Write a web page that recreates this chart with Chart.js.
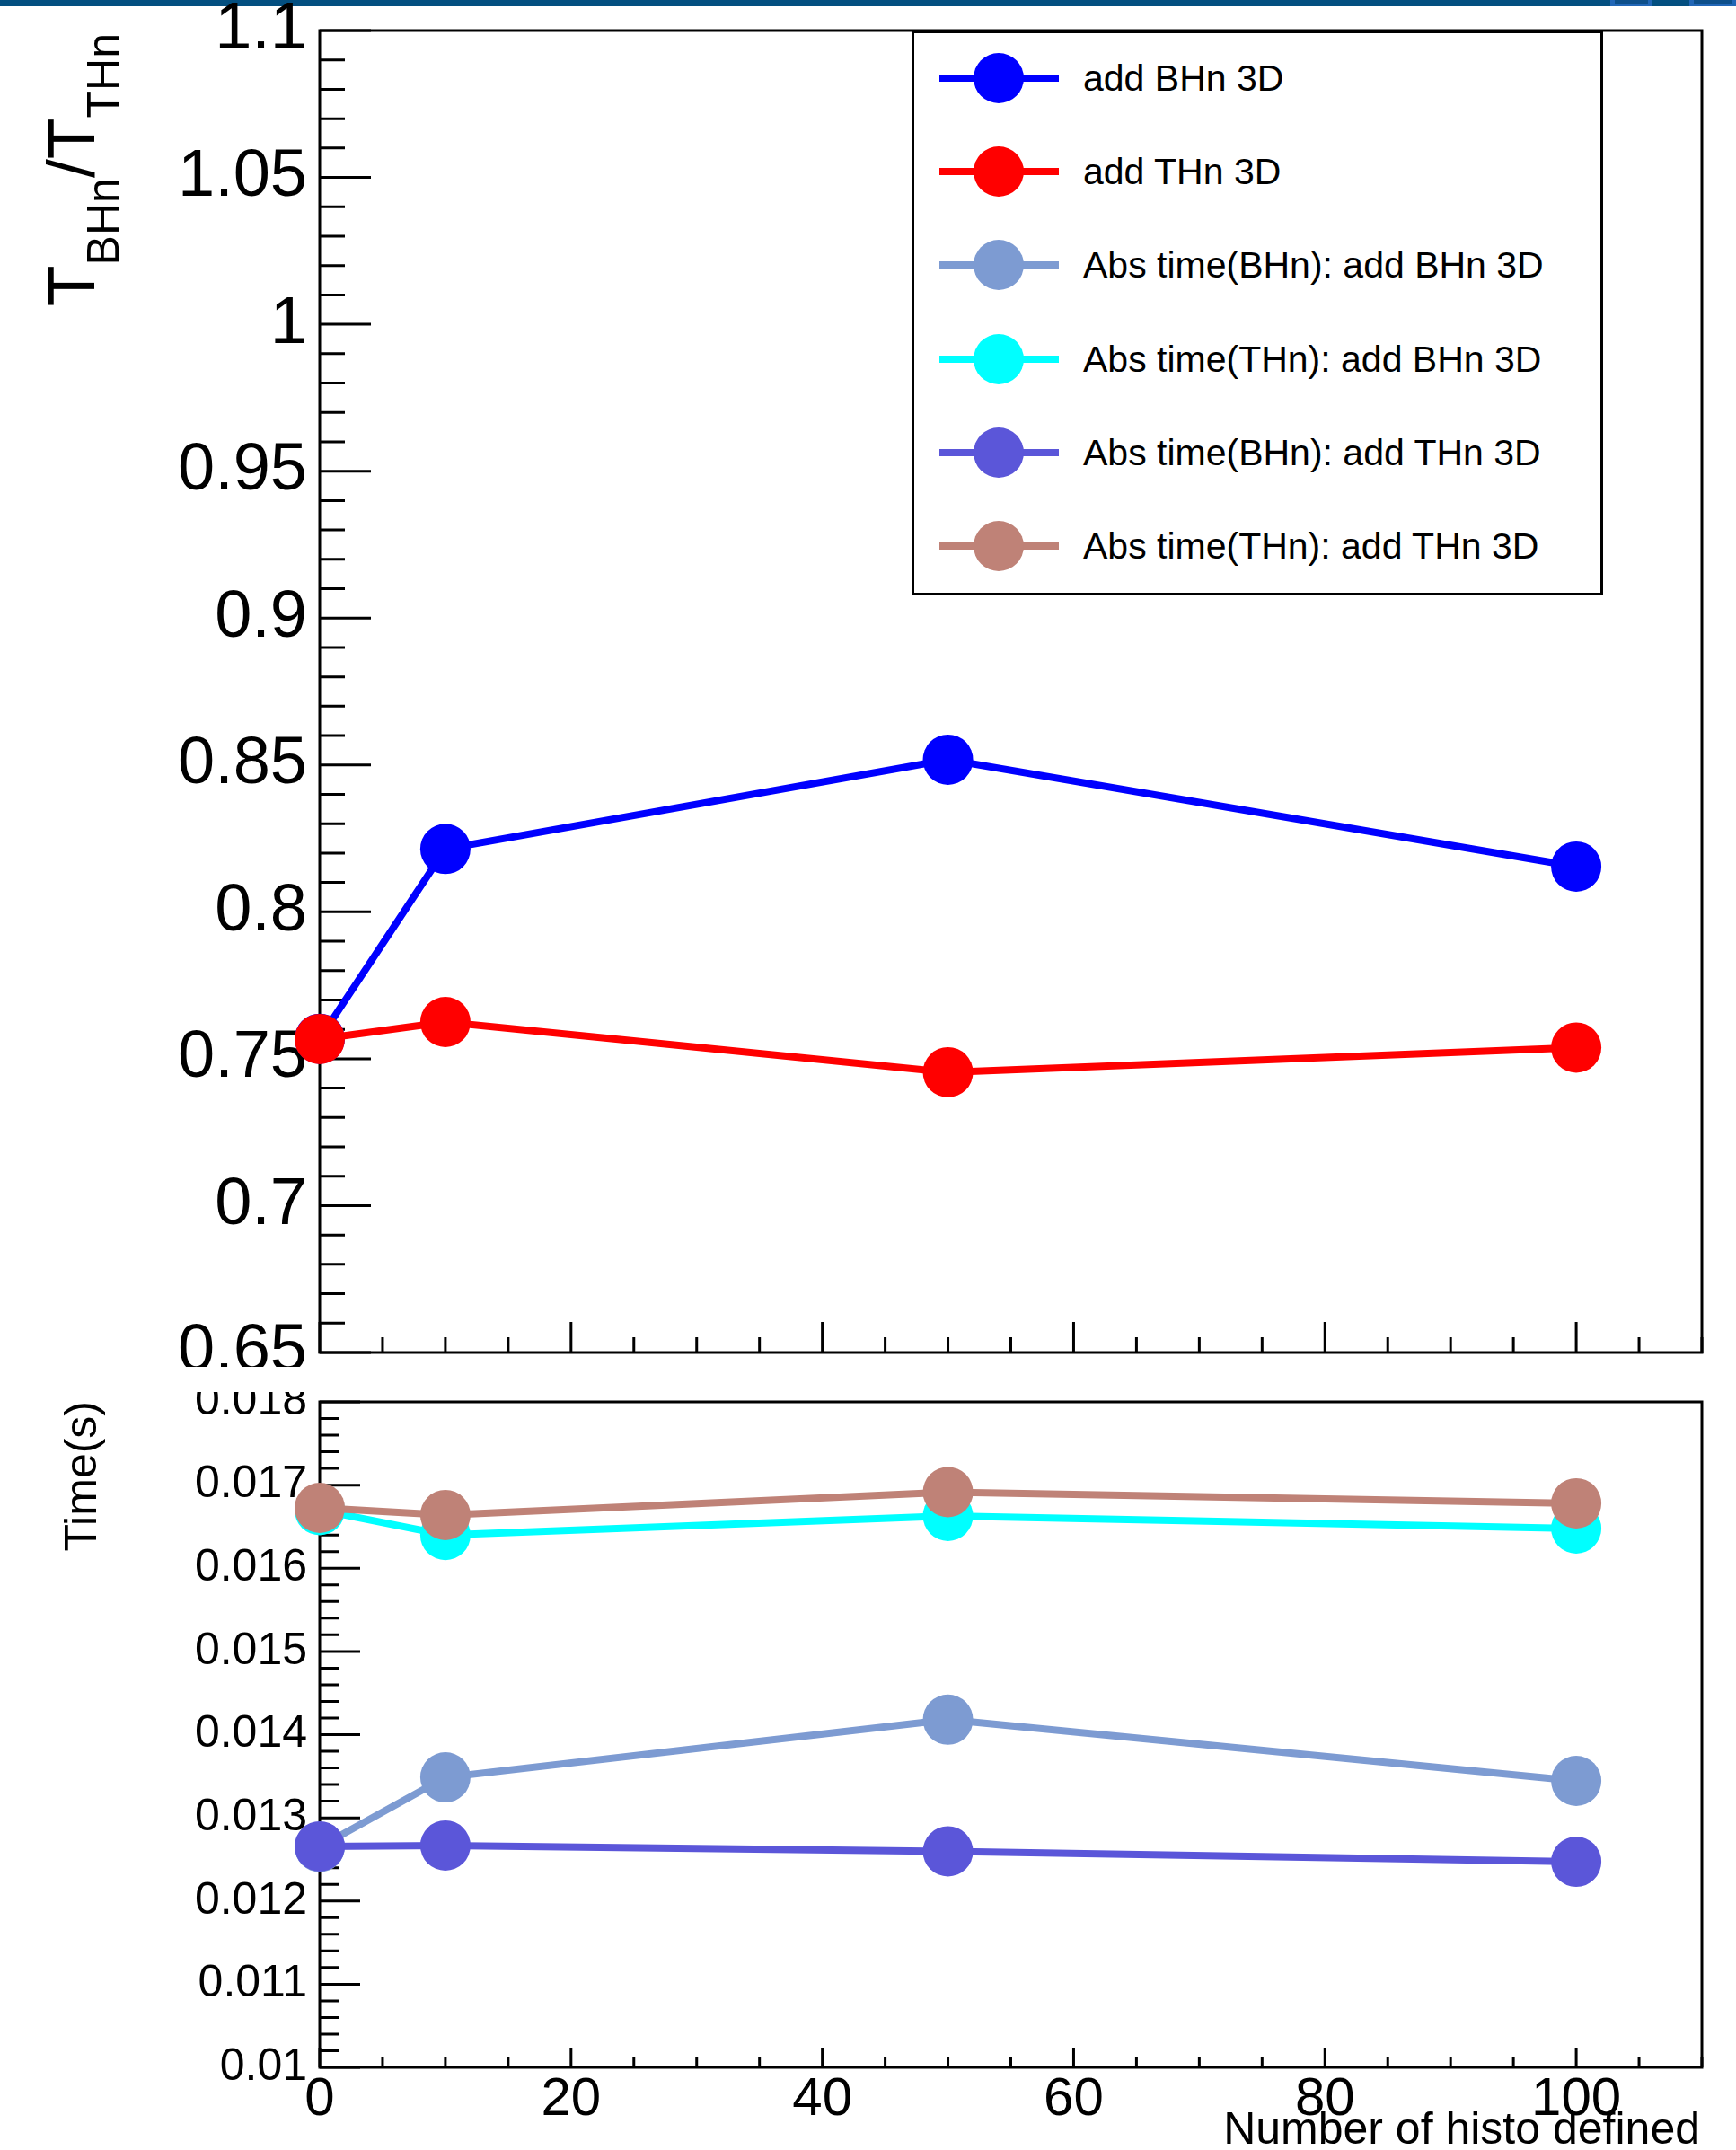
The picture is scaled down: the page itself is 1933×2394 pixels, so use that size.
<!DOCTYPE html>
<html lang="en">
<head>
<meta charset="UTF-8">
<title>BHn / THn timing</title>
<script src="https://cdn.jsdelivr.net/npm/chart.js"></script>
<style>
    html, body { margin: 0; padding: 0; background: #fff; }
    body {
        width: 1933px; height: 2394px; position: relative; overflow: hidden;
        font-family: 'Liberation Sans', Arial, Helvetica, sans-serif; color: #000;
    }
    .topbar { position: absolute; left: 0; top: 0; width: 1933px; height: 7px; background: #034f80; }
    .winbtn { position: absolute; top: 0; height: 7px; background: #2166b6; }
    .winbtn span { position: absolute; left: 5px; right: 5px; top: 0; height: 5px; background: #0d4f8a; }
    .pad { position: absolute; left: 0; width: 1933px; }
    #topPad { top: 0; height: 1522px; }
    #botPad { top: 1550px; height: 844px; }
    .vtitle {
        position: absolute; transform-origin: 0 0; transform: rotate(-90deg);
        white-space: nowrap; text-align: right; line-height: 1;
    }
    .vtitle .sub { font-size: 50px; position: relative; top: 27px; }
    #xTitle { position: absolute; right: 40px; top: 2345px; font-size: 50px; line-height: 1; white-space: nowrap; }
    #legendBox {
        position: absolute; left: 1015px; top: 34px; width: 770px; height: 629px;
        box-sizing: border-box; border: 3px solid #000; background: #fff;
    }
    .lg-line { position: absolute; height: 8px; }
    .lg-dot { position: absolute; width: 56px; height: 56px; border-radius: 50%; }
    .lg-text { position: absolute; font-size: 41px; line-height: 1; white-space: nowrap; }
</style>
</head>
<body>
    <div class="topbar"></div>
    <div class="winbtn" style="left:1793px;width:47px;"><span></span></div>
    <div class="winbtn" style="left:1881px;width:52px;"><span></span></div>

    <div class="pad" id="topPad"><canvas id="ratioChart"></canvas></div>
    <div class="pad" id="botPad"><canvas id="timeChart"></canvas></div>

    <div class="vtitle" style="left:42px; top:637px; width:600px; font-size:75px;">T<span class="sub">BHn</span>/T<span class="sub">THn</span></div>
    <div class="vtitle" style="left:65px; top:1960px; width:400px; font-size:50px;">Time(s)</div>
    <div id="xTitle">Number of histo defined</div>

    <div id="legendBox"></div>
    <div id="legendItems"></div>

<script>
    const FONT = "'Liberation Sans', Arial, Helvetica, sans-serif";

    // x values: number of histograms defined
    const nHisto = [0, 10, 50, 100];

    // ratio T(BHn)/T(THn)
    const ratioAddBHn = [0.7568, 0.8214, 0.8518, 0.8154];
    const ratioAddTHn = [0.7567, 0.7625, 0.7454, 0.7538];

    // absolute times (s)
    const timeBHnAddBHn = [0.01265, 0.013487, 0.01418, 0.013444];
    const timeTHnAddBHn = [0.01670, 0.01640, 0.01663, 0.016479];
    const timeBHnAddTHn = [0.012656, 0.012667, 0.012597, 0.012472];
    const timeTHnAddTHn = [0.016726, 0.01664, 0.016916, 0.016781];

    const seriesNames = [
        'add BHn 3D',
        'add THn 3D',
        'Abs time(BHn): add BHn 3D',
        'Abs time(THn): add BHn 3D',
        'Abs time(BHn): add THn 3D',
        'Abs time(THn): add THn 3D'
    ];
    const seriesColors = ['#0000ff', '#ff0000', '#7d9bd2', '#00ffff', '#5b56d9', '#bf8277'];

    // tick values and labels
    const xTicks = [0, 20, 40, 60, 80, 100];
    const xTickLabels = ['0', '20', '40', '60', '80', '100'];
    const yRatioTicks = [0.65, 0.7, 0.75, 0.8, 0.85, 0.9, 0.95, 1, 1.05, 1.1];
    const yRatioLabels = ['0.65', '0.7', '0.75', '0.8', '0.85', '0.9', '0.95', '1', '1.05', '1.1'];
    const yTimeTicks = [0.010, 0.011, 0.012, 0.013, 0.014, 0.015, 0.016, 0.017, 0.018];
    const yTimeLabels = ['0.01', '0.011', '0.012', '0.013', '0.014', '0.015', '0.016', '0.017', '0.018'];

    function toXY(values) {
        return nHisto.map((x, i) => ({ x: x, y: values[i] }));
    }

    function makeDataset(idx, values, order) {
        const c = seriesColors[idx];
        return {
            label: seriesNames[idx],
            data: toXY(values),
            borderColor: c,
            backgroundColor: c,
            borderWidth: 8,
            pointRadius: 28,
            pointHoverRadius: 28,
            pointBorderWidth: 0,
            pointBackgroundColor: c,
            pointBorderColor: c,
            tension: 0,
            clip: false,
            order: order
        };
    }

    // ROOT style frame with inner ticks, drawn under the graphs
    const rootFrame = {
        id: 'rootFrame',
        beforeDatasetsDraw(chart, args, opts) {
            const ctx = chart.ctx;
            const a = chart.chartArea;
            const xs = chart.scales.x, ys = chart.scales.y;
            ctx.save();
            ctx.strokeStyle = '#000';
            ctx.lineWidth = 3;
            ctx.strokeRect(a.left, a.top, a.right - a.left, a.bottom - a.top);

            ctx.beginPath();
            let n = Math.round((ys.max - ys.min) / opts.yStep);
            for (let i = 0; i <= n; i++) {
                const p = ys.getPixelForValue(ys.min + i * opts.yStep);
                const len = (i % opts.ySub === 0) ? opts.yMajor : opts.yMinor;
                ctx.moveTo(a.left, p);
                ctx.lineTo(a.left + len, p);
            }
            n = Math.round((xs.max - xs.min) / opts.xStep);
            for (let i = 0; i <= n; i++) {
                const p = xs.getPixelForValue(xs.min + i * opts.xStep);
                const len = (i % opts.xSub === 0) ? opts.xMajor : opts.xMinor;
                ctx.moveTo(p, a.bottom);
                ctx.lineTo(p, a.bottom - len);
            }
            ctx.stroke();
            ctx.restore();
        }
    };

    function baseOptions(padding, frameOpts) {
        return {
            responsive: true,
            maintainAspectRatio: false,
            devicePixelRatio: 1,
            animation: false,
            events: [],
            layout: { padding: padding, autoPadding: false },
            plugins: {
                legend: { display: false },
                tooltip: { enabled: false },
                rootFrame: frameOpts
            }
        };
    }

    // top pad: ratio
    const topOpts = baseOptions({ top: 34, right: 38, bottom: 16, left: 0 },
        { yStep: 0.01, ySub: 5, yMajor: 57, yMinor: 28, xStep: 5, xSub: 4, xMajor: 34, xMinor: 17 });
    topOpts.scales = {
        x: {
            type: 'linear', min: 0, max: 110,
            ticks: { display: false },
            grid: { display: false, drawTicks: false },
            border: { display: false },
            afterBuildTicks: s => { s.ticks = xTicks.map(v => ({ value: v })); },
            afterFit: s => { s.height = 0; s.paddingLeft = 0; s.paddingRight = 0; }
        },
        y: {
            type: 'linear', min: 0.65, max: 1.1,
            afterBuildTicks: s => { s.ticks = yRatioTicks.map(v => ({ value: v })); },
            ticks: {
                autoSkip: false,
                callback: (v, i) => yRatioLabels[i],
                font: { size: 74, family: FONT },
                color: '#000',
                padding: 14
            },
            grid: { display: false, drawTicks: false },
            border: { display: false },
            afterFit: s => { s.width = 356; s.paddingTop = 0; s.paddingBottom = 0; }
        }
    };

    new Chart(document.getElementById('ratioChart'), {
        type: 'line',
        data: {
            datasets: [
                makeDataset(0, ratioAddBHn, 2),
                makeDataset(1, ratioAddTHn, 1)
            ]
        },
        options: topOpts,
        plugins: [rootFrame]
    });

    // bottom pad: absolute times
    const botOpts = baseOptions({ top: 11, right: 38, bottom: 0, left: 0 },
        { yStep: 0.0002, ySub: 5, yMajor: 45, yMinor: 22, xStep: 5, xSub: 4, xMajor: 22, xMinor: 12 });
    botOpts.scales = {
        x: {
            type: 'linear', min: 0, max: 110,
            afterBuildTicks: s => { s.ticks = xTicks.map(v => ({ value: v })); },
            ticks: {
                autoSkip: false, maxRotation: 0,
                callback: (v, i) => xTickLabels[i],
                font: { size: 60, family: FONT },
                color: '#000',
                padding: 0
            },
            grid: { display: false, drawTicks: false },
            border: { display: false },
            afterFit: s => { s.height = 92; s.paddingLeft = 0; s.paddingRight = 0; }
        },
        y: {
            type: 'linear', min: 0.010, max: 0.018,
            afterBuildTicks: s => { s.ticks = yTimeTicks.map(v => ({ value: v })); },
            ticks: {
                autoSkip: false,
                callback: (v, i) => yTimeLabels[i],
                font: { size: 50, family: FONT },
                color: '#000',
                padding: 14
            },
            grid: { display: false, drawTicks: false },
            border: { display: false },
            afterFit: s => { s.width = 356; s.paddingTop = 0; s.paddingBottom = 0; }
        }
    };

    new Chart(document.getElementById('timeChart'), {
        type: 'line',
        data: {
            datasets: [
                makeDataset(2, timeBHnAddBHn, 4),
                makeDataset(3, timeTHnAddBHn, 3),
                makeDataset(4, timeBHnAddTHn, 2),
                makeDataset(5, timeTHnAddTHn, 1)
            ]
        },
        options: botOpts,
        plugins: [rootFrame]
    });

    // legend listing all six graphs
    const legendItems = document.getElementById('legendItems');
    seriesNames.forEach((name, i) => {
        const cy = 87 + i * 104.2;
        const line = document.createElement('div');
        line.className = 'lg-line';
        line.style.cssText = `left:1046px;width:133px;top:${cy - 4}px;background:${seriesColors[i]};`;
        const dot = document.createElement('div');
        dot.className = 'lg-dot';
        dot.style.cssText = `left:1084px;top:${cy - 28}px;background:${seriesColors[i]};`;
        const text = document.createElement('div');
        text.className = 'lg-text';
        text.style.cssText = `left:1206px;top:${cy - 20}px;`;
        text.textContent = name;
        legendItems.appendChild(line);
        legendItems.appendChild(dot);
        legendItems.appendChild(text);
    });
</script>
</body>
</html>
